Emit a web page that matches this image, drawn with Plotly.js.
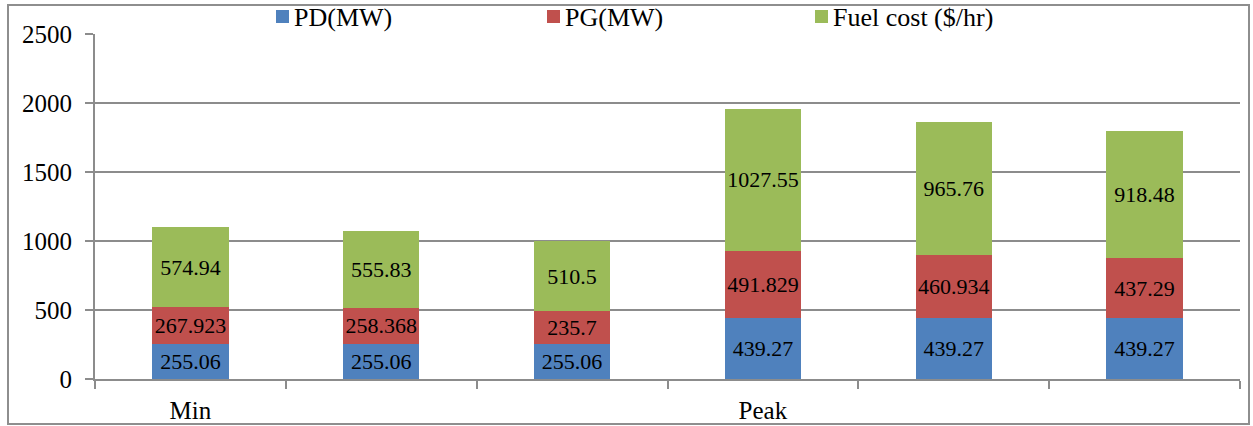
<!DOCTYPE html>
<html>
<head>
<meta charset="utf-8">
<script src="https://cdn.plot.ly/plotly-3.0.1.min.js"></script>
<style>
  body { margin: 0; padding: 0; background: #fff; }
  #chart { position: absolute; left: 0; top: 0; width: 1253px; height: 426px; }
  #frame { position: absolute; left: 7px; top: 4px; width: 1239px; height: 417px;
           border: 2px solid #8e8e8e; pointer-events: none; }
</style>
</head>
<body>
<div id="chart"></div>
<div id="frame"></div>
<script>
// Data
const positions = [0, 1, 2, 3, 4, 5];
const groupLabels = ["Min", "", "", "Peak", "", ""];
const pdValues = [255.06, 255.06, 255.06, 439.27, 439.27, 439.27];
const pgValues = [267.923, 258.368, 235.7, 491.829, 460.934, 437.29];
const fuelValues = [574.94, 555.83, 510.5, 1027.55, 965.76, 918.48];
const seriesNames = ["PD(MW)", "PG(MW)", "Fuel cost ($/hr)"];
const yTicks = [0, 500, 1000, 1500, 2000, 2500];

const FONT = "Times New Roman";
const colors = ["#4F81BD", "#C0504D", "#9BBB59"];
const allValues = [pdValues, pgValues, fuelValues];

const traces = allValues.map((vals, i) => ({
  type: "bar",
  x: positions,
  y: vals,
  name: seriesNames[i],
  marker: { color: colors[i], line: { width: 0 } },
  text: vals.map(v => String(v)),
  textposition: "inside",
  insidetextanchor: "middle",
  textangle: 0,
  constraintext: "none",
  textfont: { family: FONT, size: 22, color: "#000" },
  hoverinfo: "none",
  showlegend: false
}));

const tickPos = positions.filter((p, i) => groupLabels[i] !== "");
const tickTxt = groupLabels.filter(l => l !== "");

// Manual legend (Excel-style: small square, text right next to it)
const W = 1253, H = 426;
const M = { l: 95, r: 13, t: 34, b: 47 };
const plotW = W - M.l - M.r, plotH = H - M.t - M.b;
const px = x => (x - M.l) / plotW;
const py = y => (H - M.b - y) / plotH;
const legendStarts = [276, 547, 815];
const sq = 13;
const legendShapes = seriesNames.map((n, i) => ({
  type: "rect", xref: "paper", yref: "paper", layer: "above",
  x0: px(legendStarts[i]), x1: px(legendStarts[i] + sq),
  y0: py(10), y1: py(10 + sq),
  fillcolor: colors[i], line: { width: 0 }
}));
const legendAnns = seriesNames.map((n, i) => ({
  xref: "paper", yref: "paper",
  x: px(legendStarts[i] + sq + 3), y: py(18),
  xanchor: "left", yanchor: "middle",
  text: n, showarrow: false,
  font: { family: FONT, size: 26, color: "#000" }
}));

const layout = {
  width: W, height: H,
  margin: { l: M.l, r: M.r, t: M.t, b: M.b, autoexpand: false },
  barmode: "stack",
  bargap: 0.6,
  paper_bgcolor: "#fff",
  plot_bgcolor: "#fff",
  showlegend: false,
  shapes: legendShapes,
  annotations: legendAnns,
  xaxis: {
    range: [-0.5, 5.5],
    tickmode: "array",
    tickvals: tickPos,
    ticktext: tickTxt,
    ticks: "",
    ticklabelstandoff: 8,
    showgrid: false,
    showline: true,
    linecolor: "#8c8c8c",
    linewidth: 2,
    zeroline: false,
    tickfont: { family: FONT, size: 25, color: "#000" },
    minor: { tickmode: "linear", tick0: -0.5, dtick: 1, ticks: "outside", ticklen: 8, tickcolor: "#8c8c8c", tickwidth: 2, showgrid: false }
  },
  yaxis: {
    range: [0, 2500],
    tickmode: "array",
    tickvals: yTicks,
    ticks: "outside",
    ticklen: 8,
    tickwidth: 2,
    tickcolor: "#8c8c8c",
    ticklabelstandoff: 8,
    showgrid: true,
    gridcolor: "#8c8c8c",
    gridwidth: 1.5,
    showline: true,
    linecolor: "#8c8c8c",
    linewidth: 2,
    zeroline: false,
    tickfont: { family: FONT, size: 25, color: "#000" }
  },
  font: { family: FONT, color: "#000" }
};

Plotly.newPlot("chart", traces, layout, { displayModeBar: false, staticPlot: true });
</script>
</body>
</html>
